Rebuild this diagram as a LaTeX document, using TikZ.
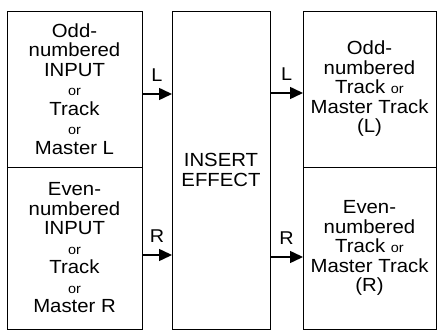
\documentclass[tikz,border=0pt]{standalone}
\usepackage{fontspec}
\setmainfont[FakeStretch=1.07]{Liberation Sans}
\usetikzlibrary{positioning,arrows.meta}

\tikzset{
  unitbox/.style={draw, line width=0.9pt, inner sep=0pt, outer sep=0pt,
    align=center, font=\fontsize{19}{19.5}\selectfont},
  sig/.style={line width=1.5pt, -{Triangle[length=13pt,width=12pt]}},
  chan/.style={font=\fontsize{18.5}{19.5}\selectfont, inner sep=0pt},
}
\newcommand{\orword}{{\fontsize{13.5}{19.5}\selectfont or}}

\begin{document}
\begin{tikzpicture}[x=1pt,y=1pt]
  \useasboundingbox (0,0) rectangle (438,334);

  % input side
  \node[unitbox, minimum width=135pt, minimum height=156pt, anchor=north west] (oddin) at (7,323)
    {Odd-\\numbered\\INPUT\\\orword\\Track\\\orword\\Master L};
  \node[unitbox, minimum width=135pt, minimum height=162pt, below=0pt of oddin] (evenin)
    {Even-\\numbered\\INPUT\\\orword\\Track\\\orword\\Master R};

  % effect
  \node[unitbox, minimum width=98pt, minimum height=318pt, anchor=north west] (fx) at (172,323)
    {INSERT\\EFFECT};

  % output side
  \node[unitbox, minimum width=133pt, minimum height=156pt, anchor=north west] (oddout) at (303,323)
    {Odd-\\numbered\\Track \orword\\Master Track\\(L)};
  \node[unitbox, minimum width=133pt, minimum height=162pt, below=0pt of oddout] (evenout)
    {Even-\\numbered\\Track \orword\\Master Track\\(R)};

  % L/R signal arrows
  \draw[sig] ([yshift=-5pt]oddin.east) -- ([yshift=-5pt]oddin.east -| fx.west)
    node[chan, midway, above=12pt] {L};
  \draw[sig] ([yshift=-7pt]evenin.east) -- ([yshift=-7pt]evenin.east -| fx.west)
    node[chan, midway, above=12pt] {R};
  \draw[sig] ([yshift=-4pt]oddout.west -| fx.east) -- ([yshift=-4pt]oddout.west)
    node[chan, midway, above=12pt] {L};
  \draw[sig] ([yshift=-9pt]evenout.west -| fx.east) -- ([yshift=-9pt]evenout.west)
    node[chan, midway, above=12pt] {R};
\end{tikzpicture}
\end{document}
